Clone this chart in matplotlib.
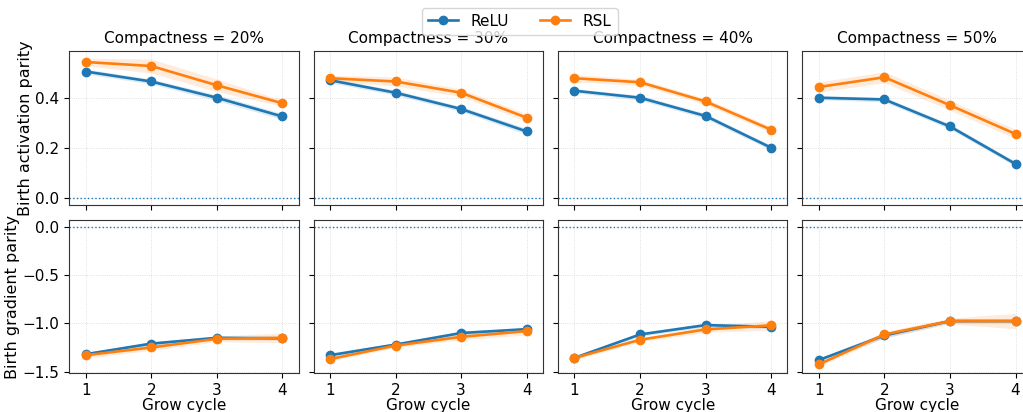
import matplotlib.pyplot as plt
import numpy as np

cycles = [1, 2, 3, 4]
compactness = ['20%', '30%', '40%', '50%']

# birth activation parity (top row)
act_relu = [[0.505, 0.465, 0.400, 0.325],
            [0.470, 0.420, 0.355, 0.265],
            [0.428, 0.400, 0.327, 0.200],
            [0.400, 0.393, 0.285, 0.135]]
act_rsl = [[0.543, 0.527, 0.450, 0.378],
           [0.478, 0.465, 0.420, 0.320],
           [0.478, 0.462, 0.385, 0.272],
           [0.443, 0.482, 0.370, 0.255]]
act_relu_sd = [[0.010, 0.010, 0.012, 0.012],
               [0.010, 0.010, 0.010, 0.012],
               [0.008, 0.010, 0.010, 0.010],
               [0.008, 0.010, 0.010, 0.010]]
act_rsl_sd = [[0.015, 0.028, 0.025, 0.012],
              [0.012, 0.018, 0.015, 0.015],
              [0.015, 0.012, 0.012, 0.012],
              [0.020, 0.022, 0.020, 0.018]]

# birth gradient parity (bottom row)
grad_relu = [[-1.32, -1.21, -1.15, -1.155],
             [-1.33, -1.22, -1.10, -1.06],
             [-1.358, -1.115, -1.018, -1.035],
             [-1.38, -1.125, -0.976, -0.976]]
grad_rsl = [[-1.33, -1.25, -1.16, -1.15],
            [-1.37, -1.23, -1.14, -1.08],
            [-1.358, -1.17, -1.063, -1.02],
            [-1.425, -1.115, -0.976, -0.976]]
grad_relu_sd = [[0.02, 0.02, 0.02, 0.02],
                [0.02, 0.02, 0.02, 0.02],
                [0.02, 0.02, 0.02, 0.02],
                [0.02, 0.03, 0.02, 0.02]]
grad_rsl_sd = [[0.03, 0.03, 0.03, 0.05],
               [0.02, 0.02, 0.03, 0.04],
               [0.02, 0.02, 0.03, 0.05],
               [0.02, 0.03, 0.03, 0.08]]

fig, axes = plt.subplots(2, 4, figsize=(10.23, 4.12), dpi=100, sharex=True, sharey='row')
# the original figure is cropped on the right, so the last column runs past the edge
fig.subplots_adjust(left=0.0677, right=1.0087, top=0.8755, bottom=0.094, wspace=0.0654, hspace=0.1)

rows = [(act_relu, act_rsl, act_relu_sd, act_rsl_sd, 'Birth activation parity'),
        (grad_relu, grad_rsl, grad_relu_sd, grad_rsl_sd, 'Birth gradient parity')]

for r, (relu, rsl, relu_sd, rsl_sd, ylabel) in enumerate(rows):
    for c in range(4):
        ax = axes[r, c]
        for vals, sd, col, lab in [(relu, relu_sd, 'C0', 'ReLU'), (rsl, rsl_sd, 'C1', 'RSL')]:
            v = np.array(vals[c])
            s = np.array(sd[c])
            ax.fill_between(cycles, v - s, v + s, color=col, alpha=0.15, linewidth=0)
            ax.plot(cycles, v, '-o', color=col, lw=1.9, ms=6, label=lab)
        ax.axhline(0, color='C0', ls=':', lw=1.0)
        ax.grid(True, ls=':', lw=0.6, alpha=0.5)
        for sp in ax.spines.values():
            sp.set_color('#333333')
        ax.tick_params(labelsize=11)
        if r == 0:
            ax.set_title('Compactness = ' + compactness[c], fontsize=11)
        else:
            ax.set_xlabel('Grow cycle', fontsize=11, labelpad=0)
        if c == 0:
            ax.set_ylabel(ylabel, fontsize=11.5, labelpad=2)

axes[0, 0].set_xticks(cycles)
axes[0, 0].set_xlim(0.75, 4.25)
axes[0, 0].set_yticks([0.0, 0.2, 0.4])
axes[1, 0].set_yticks([0.0, -0.5, -1.0, -1.5])

h, l = axes[0, 0].get_legend_handles_labels()
fig.legend(h, l, loc='upper center', ncol=2, fontsize=11, bbox_to_anchor=(0.508, 1.0),
           columnspacing=2.0, handlelength=2.0)

plt.savefig('out.png', dpi=100)
